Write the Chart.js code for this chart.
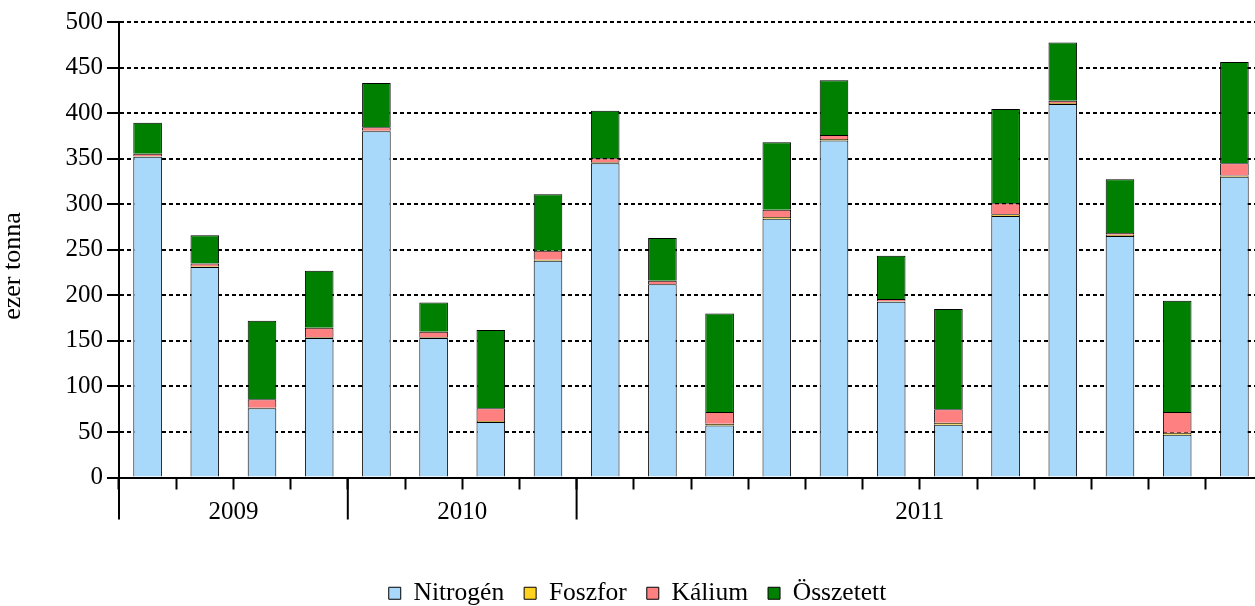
<!DOCTYPE html>
<html>
<head>
<meta charset="utf-8">
<script src="https://cdn.jsdelivr.net/npm/chart.js@4/dist/chart.umd.min.js"></script>
<style>
  html, body { margin: 0; padding: 0; background: #fff; overflow: hidden; }
  #wrap { position: absolute; left: 0; top: 0; width: 1263px; height: 616px; }
</style>
</head>
<body>
<div id="wrap"><canvas id="c" width="1263" height="616"></canvas></div>
<script>
// ---- data ----
const categories = [
  '2009 I', '2009 II', '2009 III', '2009 IV',
  '2010 I', '2010 II', '2010 III', '2010 IV',
  '2011 jan', '2011 feb', '2011 már', '2011 ápr', '2011 máj', '2011 jún',
  '2011 júl', '2011 aug', '2011 szep', '2011 okt', '2011 nov', '2011 dec'
];
const yearLabels = ['2009', '2010', '2011'];
const yearCounts = [4, 4, 12];
const nitrogen  = [352, 231, 76, 153, 380, 153, 61, 238, 345, 212, 57, 284, 370, 193, 58, 287, 410, 265, 47, 330];
const foszfor   = [0.5, 1, 0.5, 1, 0.5, 1, 1, 1, 1, 0.5, 2, 2, 1.5, 0.5, 2, 2, 1, 1.5, 2, 1.5];
const kalium    = [3, 3, 9.5, 10.5, 4, 6, 14, 10, 4.5, 3.5, 13, 8, 4.5, 2.5, 15, 12, 2.5, 2, 23, 13.5];
const osszetett = [34, 31, 86, 62.5, 48.5, 32, 86, 62, 52, 47, 108, 74, 60, 47.5, 110, 103.5, 64, 59, 122, 111];
const yTicks = { min: 0, max: 500, step: 50 };
const seriesNames = ['Nitrogén', 'Foszfor', 'Kálium', 'Összetett'];
const seriesColors = ['#A8D8FA', '#FFD21F', '#FF8080', '#008000'];

const FONT = '"Liberation Serif", "Times New Roman", serif';

const yearPlugin = {
  id: 'yearGroups',
  afterDraw(chart) {
    const xs = chart.scales.x;
    const ctx = chart.ctx;
    const bottom = chart.chartArea.bottom;
    const half = (xs.getPixelForValue(1) - xs.getPixelForValue(0)) / 2;
    ctx.save();
    ctx.strokeStyle = '#000';
    ctx.lineWidth = 2;
    ctx.fillStyle = '#000';
    ctx.font = '25px ' + FONT;
    ctx.textAlign = 'center';
    ctx.textBaseline = 'middle';
    let start = 0;
    yearCounts.forEach((n, i) => {
      const left = xs.getPixelForValue(start) - half;
      const right = xs.getPixelForValue(start + n - 1) + half;
      ctx.beginPath();
      ctx.moveTo(left, bottom);
      ctx.lineTo(left, bottom + 42);
      ctx.stroke();
      ctx.fillText(yearLabels[i], (left + right) / 2, bottom + 35);
      start += n;
    });
    ctx.restore();
  }
};

const data = {
  labels: categories,
  datasets: [nitrogen, foszfor, kalium, osszetett].map((vals, i) => ({
    label: seriesNames[i],
    data: vals,
    backgroundColor: seriesColors[i],
    borderColor: '#000',
    borderWidth: 1,
    barPercentage: 0.5,
    categoryPercentage: 1.0
  }))
};

new Chart(document.getElementById('c'), {
  type: 'bar',
  data,
  plugins: [yearPlugin],
  options: {
    responsive: false,
    animation: false,
    devicePixelRatio: 1,
    layout: { padding: { top: 22, left: 12, right: 0, bottom: 0 } },
    plugins: {
      tooltip: { enabled: false },
      legend: {
        position: 'bottom',
        labels: {
          boxWidth: 12,
          boxHeight: 12,
          padding: 20,
          color: '#000',
          font: { family: FONT, size: 25.5 }
        }
      }
    },
    scales: {
      x: {
        stacked: true,
        grid: {
          offset: true,
          drawOnChartArea: false,
          drawTicks: true,
          tickLength: 12,
          tickColor: '#000',
          tickWidth: 2
        },
        border: { display: true, color: '#000', width: 2 },
        ticks: { callback: () => '', font: { family: FONT, size: 25 } },
        afterFit(scale) { scale.height = 83; }
      },
      y: {
        stacked: true,
        min: yTicks.min,
        max: yTicks.max,
        ticks: {
          stepSize: yTicks.step,
          color: '#000',
          padding: 4,
          font: { family: FONT, size: 25 }
        },
        grid: {
          color: '#000',
          lineWidth: 2,
          tickLength: 12,
          tickColor: '#000',
          tickWidth: 2,
          tickBorderDash: []
        },
        border: { display: true, color: '#000', width: 2, dash: [4, 3] },
        title: {
          display: true,
          text: 'ezer tonna\u00A0\u00A0\u00A0\u00A0\u00A0',
          color: '#000',
          padding: { top: -12, bottom: 0 },
          font: { family: FONT, size: 26, lineHeight: 1 }
        },
        afterFit(scale) { scale.width = 107; }
      }
    }
  }
});
</script>
</body>
</html>
